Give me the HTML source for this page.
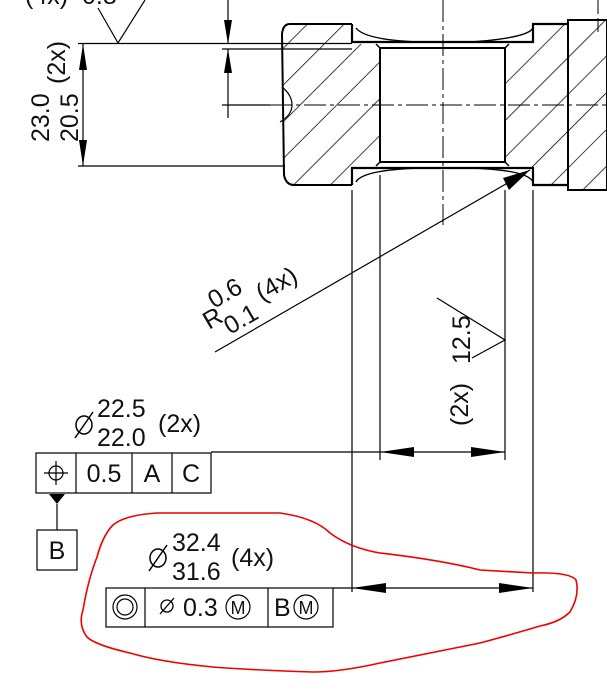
<!DOCTYPE html>
<html><head><style>
html,body{margin:0;padding:0;background:#fff;}
svg{display:block;}
text{font-family:"Liberation Sans","DejaVu Sans",sans-serif;fill:#111;}
</style></head><body>
<svg width="607" height="699" viewBox="0 0 607 699" xmlns="http://www.w3.org/2000/svg">
<defs>
<pattern id="h" patternUnits="userSpaceOnUse" width="26" height="26" patternTransform="rotate(-45)">
<line x1="0" y1="0" x2="26" y2="0" stroke="#000" stroke-width="1.4"/>
</pattern>
</defs>
<g stroke="#000" fill="none">
<path d="M290,24 L352,24 L352,42 L380,48 L380,162 L352,168 L352,185 L292,185 Q284,185 284,175 L282,35 Q284,24 290,24Z" fill="url(#h)" stroke="none"/>
<path d="M505,48 L533,42 L533,24 L568,24 L568,185 L533,185 L533,168 L505,162Z" fill="url(#h)" stroke="none"/>
<rect x="568" y="20" width="39" height="170" fill="url(#h)" stroke="none"/>
<path d="M352,24 L290,24 Q283,24 282,34 L284,175 Q286,185 294,185 L352,185" stroke-width="2"/>
<path d="M282,87 Q292,95 292,105 Q292,115 280,122" stroke-width="1.2"/>
<path d="M352,24 L352,42 L533,42 L533,24 L568,24 M352,185 L352,168 L533,168 L533,185 L568,185" stroke-width="2.2"/>
<path d="M356,28 Q365,40 420,42 M533,28 Q528,38 470,42 M356,182 Q362,170 420,168 M533,182 Q528,170 470,168" stroke-width="1.4"/>
<rect x="380" y="48" width="125" height="114" stroke-width="2" fill="#fff"/>
<path d="M376,44 L380,48 M509,44 L505,48 M376,166 L380,162 M509,166 L505,162" stroke-width="1.5"/>
<rect x="568" y="20" width="39" height="170" stroke-width="2"/>
<path d="M270,105 L607,105" stroke-width="1" stroke-dasharray="22,4,4,4"/>
<path d="M443,0 L443,225" stroke-width="1" stroke-dasharray="22,4,4,4"/>
<path d="M598,0 L598,35" stroke-width="1" stroke-dasharray="14,4"/>
<path d="M352,190 L352,592 M380,175 L380,460 M505,190 L505,460 M533,190 L533,592" stroke-width="1.2"/>
<path d="M78,43.5 L352,43.5 M222,49 L352,49 M78,166 L285,166 M222,105 L270,105" stroke-width="1.2"/>
<path d="M83,44 L83,166" stroke-width="1.2"/>
<path d="M228,0 L228,44 M228,49 L228,118" stroke-width="1.2"/>
<path d="M98,8 L118,43 L145,0" stroke-width="1.2"/>
<path d="M215,352 L530,170" stroke-width="1.2"/>
<path d="M437,298 L505,340 L472,358" stroke-width="1.2"/>
<path d="M211,452 L505,452" stroke-width="1.2"/>
<path d="M333,588 L533,588" stroke-width="1.2"/>
<rect x="36" y="453" width="175" height="40" stroke-width="1.2"/>
<path d="M76,453 L76,493 M132,453 L132,493 M172,453 L172,493" stroke-width="1.2"/>
<circle cx="56" cy="473" r="7" stroke-width="1.2"/>
<path d="M44,473 L68,473 M56,461 L56,485" stroke-width="1.2"/>
<path d="M57,504 L57,530" stroke-width="1.2"/>
<rect x="37" y="530" width="40" height="40" stroke-width="1.2"/>
<rect x="106" y="588" width="227" height="39" stroke-width="1.2"/>
<path d="M145,588 L145,627 M268,588 L268,627" stroke-width="1.2"/>
<circle cx="125" cy="607" r="12" stroke-width="1.2"/>
<circle cx="125" cy="607" r="8" stroke-width="1.2"/>
<circle cx="238" cy="607" r="12" stroke-width="1.2"/>
<circle cx="306" cy="607" r="12" stroke-width="1.2"/>
<path d="M160,614 L174,598" stroke-width="1.3"/>
<circle cx="167" cy="606" r="6" stroke-width="1.3"/>
<path d="M75,438 L93,412" stroke-width="1.5"/>
<ellipse cx="84" cy="425" rx="8" ry="9" stroke-width="1.5"/>
<path d="M149,571 L167,545" stroke-width="1.5"/>
<ellipse cx="158" cy="558" rx="8" ry="9" stroke-width="1.5"/>
<path d="M113,525 Q125,515 157,513 L280,513 Q315,518 330,533 Q350,548 380,553 Q440,560 480,570 L533,573 Q570,572 576,580 Q580,595 570,612 Q560,622 540,626 Q510,635 480,643 Q420,655 380,663 Q340,672 313,672 Q250,670 213,667 Q160,662 130,653 Q95,645 87,637 Q78,625 83,610 Q88,580 97,557 Q103,535 113,525Z" stroke="#e00" stroke-width="1.6"/>
</g>
<g fill="#000">
<polygon points="83,44 79,70 87,70"/>
<polygon points="83,166 79,140 87,140"/>
<polygon points="228,44 224,20 232,20"/>
<polygon points="228,49 224,73 232,73"/>
<polygon points="530,170 503,178 509,190"/>
<polygon points="380,452 414,447 414,457"/>
<polygon points="505,452 471,447 471,457"/>
<polygon points="352,588 386,583 386,593"/>
<polygon points="533,588 499,583 499,593"/>
<polygon points="49,494 65,494 57,504"/>
</g>
<g font-size="25">
<text x="104" y="482" text-anchor="middle">0.5</text>
<text x="152" y="482" text-anchor="middle">A</text>
<text x="191" y="482" text-anchor="middle">C</text>
<text x="57" y="559" text-anchor="middle">B</text>
<text x="183" y="616">0.3</text>
<text x="238" y="614" font-size="18" text-anchor="middle">M</text>
<text x="274" y="616">B</text>
<text x="306" y="614" font-size="18" text-anchor="middle">M</text>
<text x="97" y="417">22.5</text>
<text x="97" y="446">22.0</text>
<text x="158" y="432">(2x)</text>
<text x="172" y="551">32.4</text>
<text x="172" y="580">31.6</text>
<text x="231" y="566">(4x)</text>
<text transform="translate(49,142) rotate(-90)">23.0</text>
<text transform="translate(78,142) rotate(-90)">20.5</text>
<text transform="translate(65,84) rotate(-90)">(2x)</text>
<text transform="translate(468,426) rotate(-90)">(2x)</text>
<text transform="translate(470,364) rotate(-90)">12.5</text>
<text transform="translate(209,330) rotate(-30)">R</text>
<text transform="translate(214,309) rotate(-30)">0.6</text>
<text transform="translate(230,335) rotate(-30)">0.1</text>
<text transform="translate(262,302) rotate(-30)">(4x)</text>
<text x="25" y="4">(4x)</text>
<text x="82" y="4">0.8</text>
</g>
</svg>
</body></html>
